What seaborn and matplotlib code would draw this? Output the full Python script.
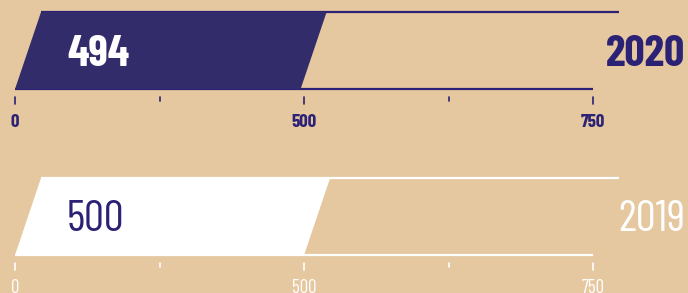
import matplotlib
matplotlib.use('Agg')
import matplotlib.pyplot as plt
import seaborn as sns
import pandas as pd
from matplotlib.patches import Polygon

# data
years = ['2020', '2019']
values = [494, 500]
track_max = 1000          # end of the outlined track (labelled "750" on the original)
tick_pos = [0, 250, 500, 750, 1000]
tick_labels = ['0', '', '500', '', '750']

purple = '#2b2175'
beige = '#e5c8a0'
white = '#ffffff'
bar_colors = [purple, white]
value_colors = [white, purple]
year_colors = [purple, white]
row_weights = ['bold', 'normal']

sns.set_theme(style='white', rc={'axes.facecolor': beige, 'figure.facecolor': beige})
plt.rcParams['font.family'] = ['Barlow Condensed', 'Roboto', 'DejaVu Sans']

fig = plt.figure(figsize=(6.88, 2.93), dpi=100)
ax = fig.add_axes([0, 0, 1, 1])

df = pd.DataFrame({'year': years, 'value': values})
bar_w = 0.464
sns.barplot(data=df, x='value', y='year', hue='year', palette=bar_colors,
            width=bar_w, orient='h', errorbar=None, legend=False, ax=ax)

slant = 45  # horizontal offset of the top edge, in x units

# turn the seaborn rectangles into slanted parallelograms
for p in list(ax.patches):
    x0, y0 = p.get_x(), p.get_y()
    w, h = p.get_width(), p.get_height()
    top, bot = y0, y0 + h
    poly = Polygon([(x0, bot), (x0 + w, bot), (x0 + w + slant, top), (x0 + slant, top)],
                   closed=True, facecolor=p.get_facecolor(), edgecolor='none', zorder=3)
    p.remove()
    ax.add_patch(poly)

for i, yr in enumerate(years):
    top, bot = i - bar_w / 2, i + bar_w / 2
    c = year_colors[i]
    # track outline
    ax.plot([slant, track_max + slant], [top, top], color=c, lw=1.6, zorder=2,
            solid_capstyle='butt')
    ax.plot([0, track_max], [bot, bot], color=c, lw=1.6, zorder=2, solid_capstyle='butt')
    # ticks
    for tp, tl in zip(tick_pos, tick_labels):
        ln = 0.042 if tl else 0.026
        ax.plot([tp, tp], [bot + 0.048, bot + 0.048 + ln], color=c, lw=1.2)
        if tl:
            ax.text(tp, bot + 0.2, tl, color=c, fontsize=13.5, weight=row_weights[i],
                    ha='center', va='center')
    ax.text(90, i + 0.022, str(values[i]), color=value_colors[i], fontsize=32,
            weight=row_weights[i], ha='left', va='center', zorder=4)
    ax.text(1159, i + 0.022, yr, color=year_colors[i], fontsize=32, weight=row_weights[i],
            ha='right', va='center')

ax.set_xlim(-26, 1164)
ax.set_ylim(1.461, -0.304)
ax.axis('off')

plt.savefig('out.png', dpi=100, facecolor=beige)
